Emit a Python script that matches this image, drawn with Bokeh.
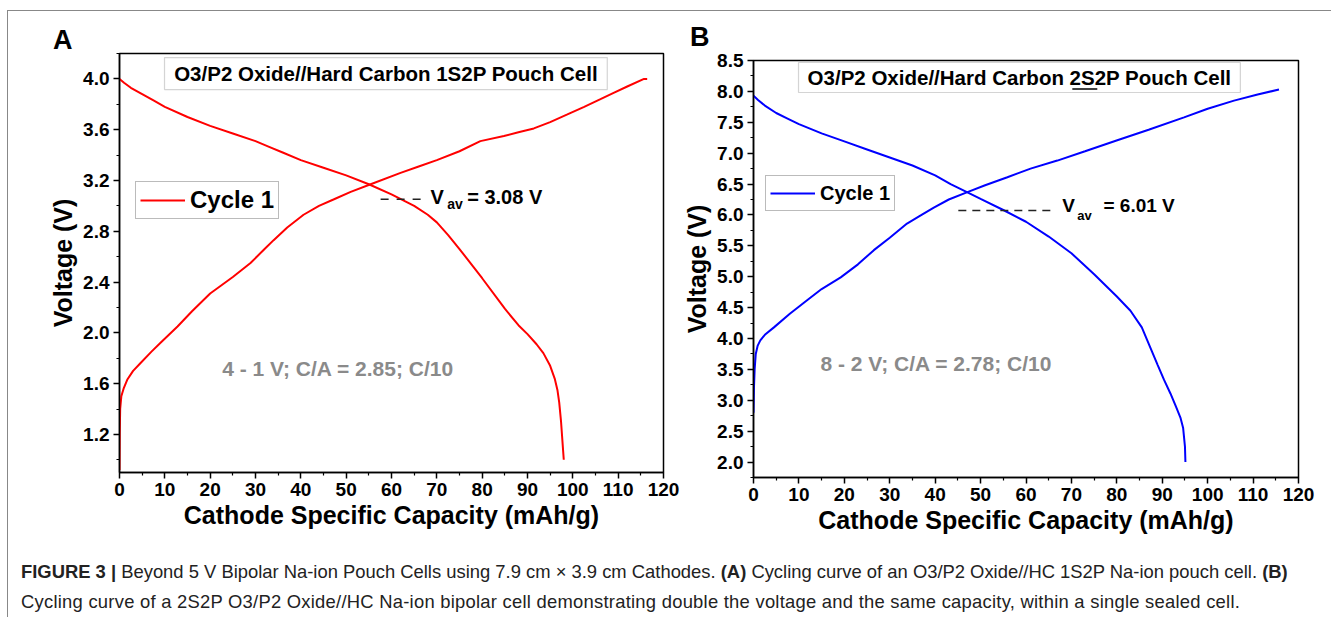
from bokeh.plotting import figure
from bokeh.models import (Label, BoxAnnotation, Legend, LegendItem, FixedTicker,
                          NumeralTickFormatter, Range1d, Div)
from bokeh.layouts import row, column
from bokeh.embed import file_html
from bokeh.resources import INLINE

# ---------------- data ----------------
x_ticks = [0, 10, 20, 30, 40, 50, 60, 70, 80, 90, 100, 110, 120]
x_minor = [5, 15, 25, 35, 45, 55, 65, 75, 85, 95, 105, 115]

a_y_ticks = [1.2, 1.6, 2.0, 2.4, 2.8, 3.2, 3.6, 4.0]
a_y_minor = [1.0, 1.4, 1.8, 2.2, 2.6, 3.0, 3.4, 3.8, 4.2]

b_y_ticks = [2.0, 2.5, 3.0, 3.5, 4.0, 4.5, 5.0, 5.5, 6.0, 6.5, 7.0, 7.5, 8.0, 8.5]
b_y_minor = [1.75, 2.25, 2.75, 3.25, 3.75, 4.25, 4.75, 5.25, 5.75, 6.25, 6.75,
             7.25, 7.75, 8.25]

# Panel A: 1S2P cell, charge curve
a_chg_cap = [0, 0.05, 0.15, 0.4, 0.9, 1.7, 3, 4.6, 7, 9, 12.8, 16, 20, 25, 28.9, 32,
             34, 37, 40.6, 44, 47.2, 51, 55.4, 62, 66, 70, 75, 79.6, 84.8, 88, 91.4,
             95, 98.8, 102.5, 106.1, 109, 112, 115.7, 116.4]
a_chg_v = [0.92, 1.20, 1.40, 1.50, 1.56, 1.63, 1.70, 1.76, 1.85, 1.92, 2.05, 2.17,
           2.31, 2.44, 2.55, 2.66, 2.73, 2.83, 2.93, 3.00, 3.05, 3.11, 3.17, 3.26,
           3.31, 3.36, 3.43, 3.51, 3.55, 3.58, 3.61, 3.66, 3.72, 3.78, 3.84, 3.89,
           3.94, 4.00, 4.00]
# Panel A: discharge curve
a_dis_cap = [0, 1, 2.5, 5, 7.5, 10, 15, 20, 25, 30, 33, 36, 40, 45, 50, 55, 60, 65,
             68, 70, 72.5, 75, 80, 85, 88, 90, 92, 93.5, 95, 96, 96.6, 97, 97.4,
             97.8, 98]
a_dis_v = [4.00, 3.97, 3.93, 3.88, 3.83, 3.78, 3.70, 3.63, 3.57, 3.51, 3.465, 3.42,
           3.36, 3.30, 3.24, 3.17, 3.09, 3.00, 2.93, 2.87, 2.77, 2.66, 2.43, 2.19,
           2.06, 1.99, 1.91, 1.84, 1.74, 1.64, 1.55, 1.45, 1.30, 1.10, 1.00]

# Panel B: 2S2P bipolar cell, charge curve
b_chg_cap = [0, 0.1, 0.25, 0.5, 0.9, 1.5, 2.5, 4.5, 8, 11.8, 15, 19.2, 23, 26.5, 30,
             33.8, 37, 39.7, 43, 47.1, 51, 55.9, 61, 66.9, 73, 80.1, 87, 94.8, 100,
             105.8, 111, 115.7]
b_chg_v = [2.80, 3.20, 3.50, 3.75, 3.88, 3.97, 4.06, 4.18, 4.40, 4.62, 4.80, 4.99,
           5.20, 5.43, 5.63, 5.86, 6.00, 6.12, 6.25, 6.37, 6.48, 6.61, 6.75, 6.88,
           7.03, 7.21, 7.38, 7.58, 7.72, 7.85, 7.95, 8.03]
# Panel B: discharge curve
b_dis_cap = [0, 1, 2.5, 5, 7.5, 10, 15, 20, 25, 30, 35, 40, 43.4, 47, 50, 55, 60, 65,
             70, 75, 80, 83, 85.5, 87.4, 89, 90.4, 91.8, 93, 94, 94.6, 95.0, 95.1]
b_dis_v = [7.93, 7.86, 7.77, 7.65, 7.56, 7.47, 7.32, 7.19, 7.06, 6.93, 6.80, 6.64,
           6.50, 6.37, 6.26, 6.08, 5.89, 5.65, 5.38, 5.04, 4.68, 4.45, 4.18, 3.85,
           3.57, 3.33, 3.11, 2.90, 2.72, 2.55, 2.25, 2.00]

a_vav = 3.08
b_vav = 6.01

FONT = "Liberation Sans"


def style_axes(p, yticks, yminor):
    p.xgrid.visible = False
    p.ygrid.visible = False
    p.outline_line_color = "black"
    p.outline_line_width = 1.5
    p.background_fill_color = "white"
    p.border_fill_color = "white"
    p.xaxis.ticker = FixedTicker(ticks=x_ticks, minor_ticks=x_minor)
    p.yaxis.ticker = FixedTicker(ticks=yticks, minor_ticks=yminor)
    p.xaxis.formatter = NumeralTickFormatter(format="0")
    p.yaxis.formatter = NumeralTickFormatter(format="0.0")
    for ax in (p.xaxis, p.yaxis):
        ax.axis_line_color = "black"
        ax.axis_line_width = 1.5
        ax.major_tick_line_color = "black"
        ax.major_tick_line_width = 1.5
        ax.minor_tick_line_color = "black"
        ax.minor_tick_line_width = 1.2
        ax.major_tick_in = 0
        ax.major_tick_out = 6
        ax.minor_tick_in = 0
        ax.minor_tick_out = 3
        ax.major_label_text_font = FONT
        ax.major_label_text_font_style = "bold"
        ax.major_label_text_font_size = "19px"
        ax.major_label_text_color = "black"
        ax.axis_label_text_font = FONT
        ax.axis_label_text_font_style = "bold"
        ax.axis_label_text_font_size = "25px"
        ax.axis_label_text_color = "black"
        ax.major_label_standoff = 4
    p.xaxis.axis_label = "Cathode Specific Capacity (mAh/g)"
    p.yaxis.axis_label = "Voltage (V)"
    p.xaxis.axis_label_standoff = 2
    p.yaxis.axis_label_standoff = 3


def lab(p, x, y, text, size, color="black", align="left", baseline="alphabetic",
        style="bold"):
    p.add_layout(Label(x=x, y=y, text=text, text_font=FONT, text_font_size=size,
                       text_font_style=style, text_color=color, text_align=align,
                       text_baseline=baseline))


def panel_letter(letter, width, height, pad_left, pad_top):
    html = ('<div style="font-family: \'Liberation Sans\', Arial, sans-serif; '
            'font-weight: bold; font-size: 27px; line-height: 27px; color: black; '
            'padding-left: %dpx; padding-top: %dpx;">%s</div>'
            % (pad_left, pad_top, letter))
    return Div(text=html, width=width, height=height, margin=0)


# ---------------- Panel A ----------------
pA = figure(width=672, height=488, x_range=Range1d(0, 120), y_range=Range1d(0.9, 4.2),
            output_backend="svg", toolbar_location=None,
            min_border_left=111, min_border_right=17, min_border_top=2,
            min_border_bottom=67, margin=0)
style_axes(pA, a_y_ticks, a_y_minor)

pA.add_layout(BoxAnnotation(left=9.93, right=107.6, top=4.168, bottom=3.916,
                            fill_color="white", fill_alpha=1, line_color="#707070",
                            line_width=1.2, level="underlay"))
rA1 = pA.line(a_dis_cap, a_dis_v, line_color="#ff0000", line_width=2)
pA.line(a_chg_cap, a_chg_v, line_color="#ff0000", line_width=2)

lab(pA, 58.8, 4.042, "O3/P2 Oxide//Hard Carbon 1S2P Pouch Cell", "20.5px",
    align="center", baseline="middle")

pA.line([57.6, 67.5], [3.053, 3.053], line_color="#222222", line_width=1.5,
        line_dash="8 8")
lab(pA, 68.6, 3.073, "V", "20px")
lab(pA, 72.3, 3.016, "av", "14px")
lab(pA, 76.7, 3.073, "= %.2f V" % a_vav, "20px")
lab(pA, 22.65, 1.721, "4 - 1 V; C/A = 2.85; C/10", "21px", color="#8a8a8a")

legA = Legend(items=[LegendItem(label="Cycle 1", renderers=[rA1])],
              location=(16, 253), border_line_color="#777777", border_line_width=1,
              background_fill_color="white", background_fill_alpha=1,
              glyph_width=45, glyph_height=26, label_height=26, padding=4, margin=0,
              spacing=0, label_standoff=5, label_text_font=FONT,
              label_text_font_size="24px", label_text_font_style="bold",
              label_text_color="black")
pA.add_layout(legA)

# ---------------- Panel B ----------------
pB = figure(width=651, height=492, x_range=Range1d(0, 120), y_range=Range1d(1.75, 8.5),
            output_backend="svg", toolbar_location=None,
            min_border_left=73, min_border_right=33, min_border_top=13,
            min_border_bottom=62, margin=0)
style_axes(pB, b_y_ticks, b_y_minor)

pB.add_layout(BoxAnnotation(left=9.91, right=107.2, top=8.468, bottom=7.982,
                            fill_color="white", fill_alpha=1, line_color="#707070",
                            line_width=1.2, level="underlay"))
rB1 = pB.line(b_chg_cap, b_chg_v, line_color="#0000ff", line_width=2)
pB.line(b_dis_cap, b_dis_v, line_color="#0000ff", line_width=2)

lab(pB, 58.57, 8.225, "O3/P2 Oxide//Hard Carbon 2S2P Pouch Cell", "20.5px",
    align="center", baseline="middle")
pB.line([70.2, 75.7], [8.04, 8.04], line_color="black", line_width=1.5)

pB.line([45.1, 66.5], [6.073, 6.073], line_color="#222222", line_width=1.5,
        line_dash="8 6")
lab(pB, 68.0, 6.154, "V", "19px")
lab(pB, 71.3, 5.99, "av", "13px")
lab(pB, 77.06, 6.154, "= %.2f V" % b_vav, "19px")
lab(pB, 14.75, 3.592, "8 - 2 V; C/A = 2.78; C/10", "21px", color="#8a8a8a")

legB = Legend(items=[LegendItem(label="Cycle 1", renderers=[rB1])],
              location=(12, 266), border_line_color="#777777", border_line_width=1,
              background_fill_color="white", background_fill_alpha=1,
              glyph_width=45, glyph_height=26, label_height=26, padding=4, margin=0,
              spacing=0, label_standoff=5, label_text_font=FONT,
              label_text_font_size="20px", label_text_font_style="bold",
              label_text_color="black")
pB.add_layout(legB)

divA = panel_letter("A", 672, 40, 45, 16)
divB = panel_letter("B", 651, 36, 10, 13)

# ---------------- caption ----------------
cap_html = (
    '<div style="font-family: \'Liberation Sans\', Arial, sans-serif; font-size: 18.4px; '
    'line-height: 30px; color: #222; padding-top: 18px; padding-left: 13px; '
    'white-space: nowrap;">'
    '<b>FIGURE 3 |</b> Beyond 5 V Bipolar Na-ion Pouch Cells using 7.9 cm \u00d7 3.9 cm '
    'Cathodes. <b>(A)</b> Cycling curve of an O3/P2 Oxide//HC 1S2P Na-ion pouch cell. '
    '<b>(B)</b><br><span style="letter-spacing: 0.25px;">Cycling curve of a 2S2P O3/P2 '
    'Oxide//HC Na-ion bipolar cell demonstrating double the voltage and the same '
    'capacity, within a single sealed cell.</span>'
    '</div>'
)
cap = Div(text=cap_html, width=1323, height=78, margin=0)

layout = column(row(column(divA, pA, margin=0), column(divB, pB, margin=0), margin=0),
                cap, margin=(10, 0, 0, 7),
                styles={"border-top": "1px solid #888888",
                        "border-left": "1px solid #888888"})

open("out.html", "w").write(file_html(layout, INLINE))
